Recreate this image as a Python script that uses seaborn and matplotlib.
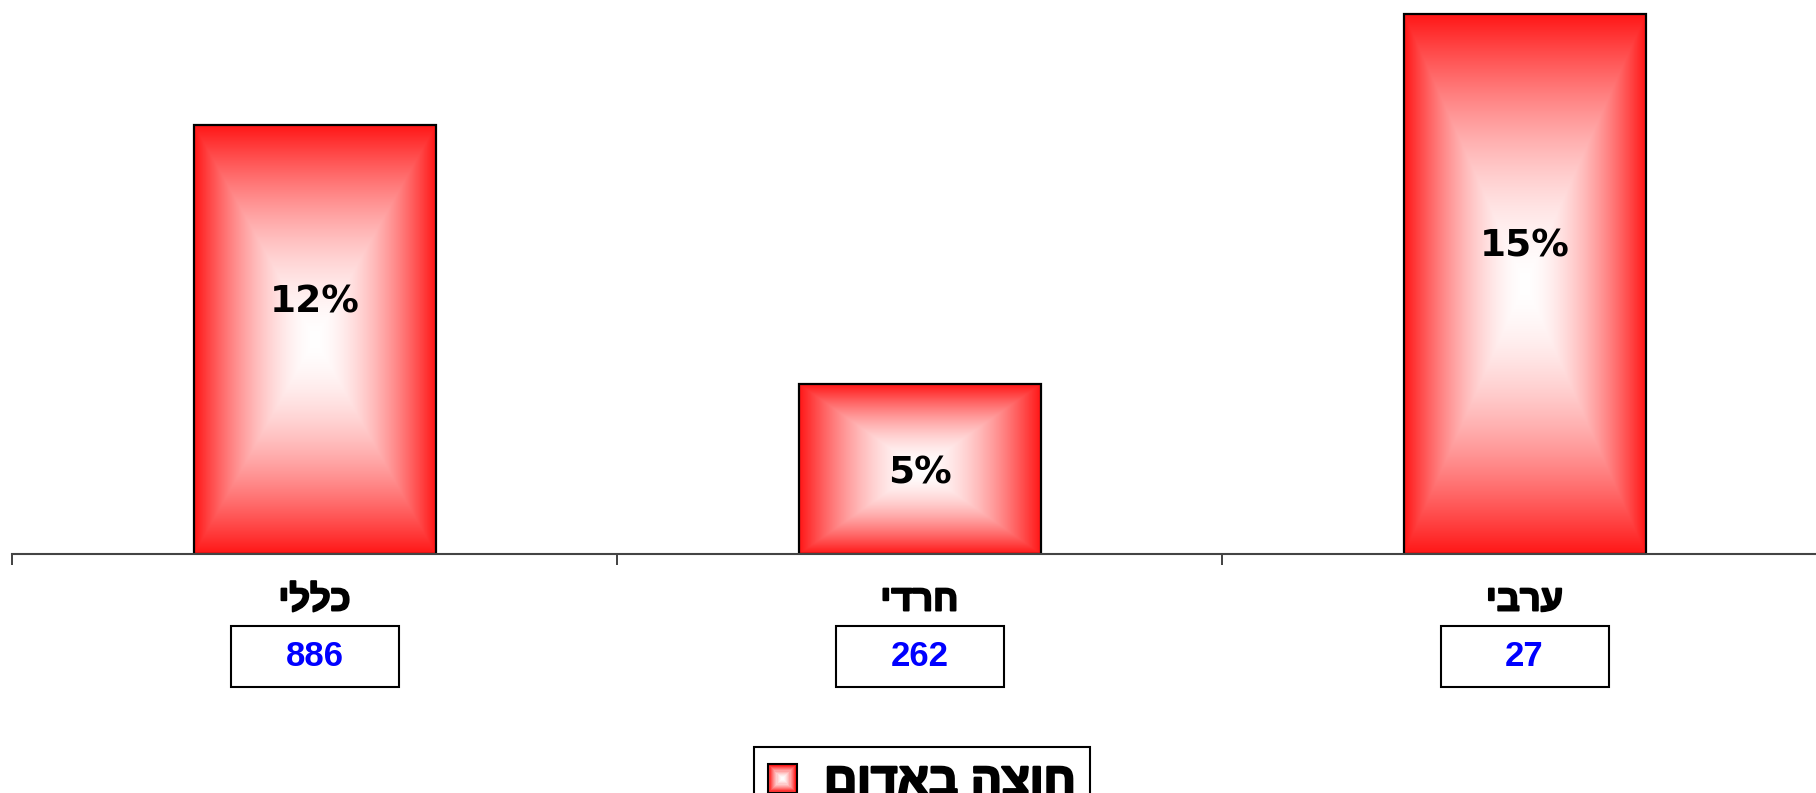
import numpy as np
import pandas as pd
import seaborn as sns
import matplotlib
matplotlib.use("Agg")
import matplotlib.pyplot as plt
import matplotlib.transforms as mtransforms
import matplotlib.patheffects as pe
from matplotlib.patches import Rectangle, Patch
from matplotlib.legend_handler import HandlerBase
from matplotlib.font_manager import FontProperties

# data
categories = ["כללי", "חרדי", "ערבי"]
share_red = [11.9, 4.7, 15.0]      # percent shown on the bars
counts = [886, 262, 27]             # numbers in the boxes under the labels
legend_label = "חוצה באדום"

RED = np.array([1.0, 0.09, 0.09])
WHITE = np.array([1.0, 1.0, 1.0])
HEB_FONTS = ["Liberation Sans", "DejaVu Sans"]
# hebrew glyphs come out in a regular weight, so thicken them with a stroke
HEB_BOLD = [pe.withStroke(linewidth=1.4, foreground="black")]


def rtl(s):
    # matplotlib draws left to right, so flip hebrew strings
    return s[::-1]


def box_gradient(n=300, power=1.7):
    u = np.linspace(-1, 1, n)
    xx, yy = np.meshgrid(u, u)
    t = np.maximum(np.abs(xx), np.abs(yy))[..., None] ** power
    return WHITE * (1 - t) + RED * t


class GradientBoxHandler(HandlerBase):
    def create_artists(self, legend, orig_handle, xdescent, ydescent,
                       width, height, fontsize, trans):
        side = min(width, height)
        x0 = -xdescent + (width - side) / 2
        y0 = -ydescent + (height - side) / 2
        arts = []
        steps = 12
        for i in range(steps):
            f = i / steps
            s = side * f / 2
            t = (1 - f) ** 1.7
            arts.append(Rectangle((x0 + s, y0 + s), side - 2 * s, side - 2 * s,
                                  facecolor=RED * t + WHITE * (1 - t),
                                  edgecolor="none", transform=trans))
        arts.append(Rectangle((x0, y0), side, side, facecolor="none",
                              edgecolor="black", lw=1.5, transform=trans))
        return arts


df = pd.DataFrame({"group": categories, "share": share_red})

sns.set_style("white")
plt.rcParams["font.family"] = ["Liberation Sans", "DejaVu Sans"]
plt.rcParams["text.color"] = "black"

fig = plt.figure(figsize=(18.16, 7.93), dpi=100)
ax = fig.add_axes([12 / 1816, 1 - 553.6 / 793, 1815 / 1816, 553.6 / 793])

sns.barplot(data=df, x="group", y="share", ax=ax, color="red", width=0.4,
            edgecolor="black", linewidth=1.6)

grad = box_gradient()
for bar in ax.patches:
    x0, y0 = bar.get_x(), bar.get_y()
    w, h = bar.get_width(), bar.get_height()
    im = ax.imshow(grad, extent=(x0, x0 + w, y0, y0 + h), aspect="auto",
                   interpolation="bilinear", zorder=bar.get_zorder() + 0.5)
    im.set_clip_path(bar)
    bar.set_facecolor("none")
    bar.set_zorder(bar.get_zorder() + 1)

ax.set_xlim(-0.5, 2.5)
ax.set_ylim(0, 15.0 * 553.6 / 540)
ax.set_xlabel("")
ax.set_ylabel("")
ax.set_yticks([])
ax.set_xticks([-0.5, 0.5, 1.5, 2.5])
ax.set_xticklabels([])
ax.tick_params(axis="x", direction="out", length=8, width=1.3, color="#333333",
               bottom=True)
for side in ["top", "left", "right"]:
    ax.spines[side].set_visible(False)
ax.spines["bottom"].set_color("#444444")
ax.spines["bottom"].set_linewidth(1.5)

# percent labels inside the bars (a little above centre on the tall bars)
for i, v in enumerate(share_red):
    y = v / 2 + (1.15 if v > 8 else 0) - 0.12
    ax.text(i, y, f"{v:.0f}%", ha="center", va="center",
            fontsize=27, fontweight="bold", family="DejaVu Sans", color="black",
            zorder=10)

# category names and count boxes under the axis
tr = mtransforms.blended_transform_factory(ax.transData, fig.transFigure)
box_w = 168 / 605
for i, (name, n) in enumerate(zip(categories, counts)):
    ax.text(i, 1 - 601 / 793, rtl(name), transform=tr, ha="center", va="center",
            fontsize=26, fontweight="bold", color="black", family=HEB_FONTS,
            path_effects=HEB_BOLD)
    ax.add_patch(Rectangle((i - box_w / 2, 1 - 687 / 793), box_w, 61 / 793,
                           transform=tr, facecolor="white", edgecolor="black",
                           lw=1.5, clip_on=False))
    ax.text(i, 1 - 657 / 793, str(n), transform=tr, ha="center", va="center",
            fontsize=25, fontweight="bold", color="#0000ff",
            family=["Liberation Sans Narrow", "Liberation Sans"])

handle = Patch(label=rtl(legend_label))
leg_font = FontProperties(family=HEB_FONTS, weight="bold", size=33)
leg = fig.legend(handles=[handle], handler_map={Patch: GradientBoxHandler()},
                 loc="upper center", bbox_to_anchor=(922 / 1816, 1 - 747 / 793),
                 prop=leg_font, labelcolor="black", frameon=True,
                 fancybox=False, framealpha=1, edgecolor="black",
                 borderaxespad=0, handlelength=0.62, handleheight=0.62,
                 handletextpad=0.6, borderpad=0.3)
leg.get_frame().set_linewidth(1.5)
for txt in leg.get_texts():
    txt.set_path_effects([pe.withStroke(linewidth=1.8, foreground="black")])

fig.savefig("out.png", dpi=100)
